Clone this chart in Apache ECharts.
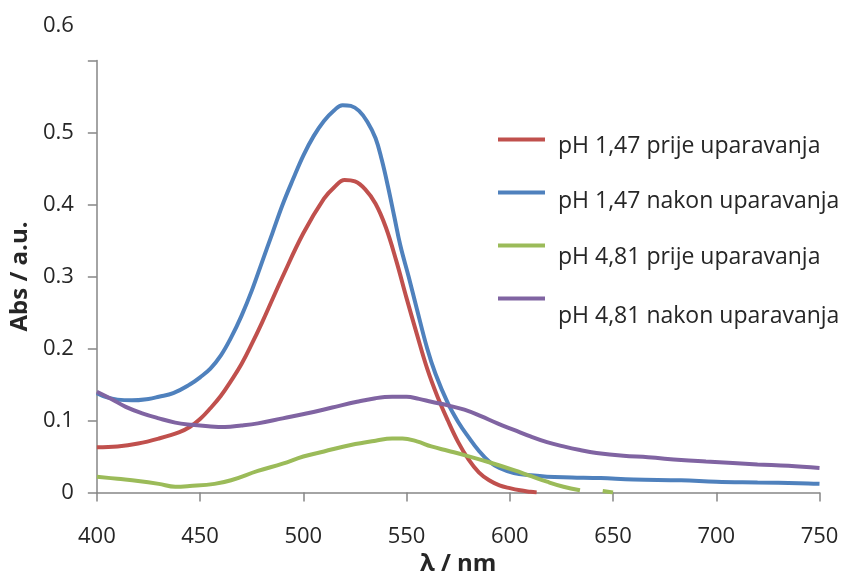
<!DOCTYPE html>
<html>
<head>
<meta charset="utf-8">
<script src="https://cdn.jsdelivr.net/npm/echarts@6/dist/echarts.min.js"></script>
<style>
  html, body { margin: 0; padding: 0; background: #fff; }
  #chart { width: 857px; height: 585px; }
</style>
</head>
<body>
<div id="chart"></div>
<script>
// pH 1,47 prije uparavanja
var redWl = [400, 410, 420, 430, 440, 445, 450, 455, 460, 465, 470, 475, 480, 485, 490, 500, 510, 515, 520, 525, 530, 535, 540, 545, 550, 555, 560, 565, 570, 575, 580, 585, 590, 595, 600, 605, 610, 613];
var redAbs = [0.063, 0.064, 0.068, 0.075, 0.084, 0.091, 0.102, 0.117, 0.134, 0.155, 0.178, 0.206, 0.236, 0.268, 0.30, 0.36, 0.408, 0.424, 0.434, 0.432, 0.421, 0.401, 0.368, 0.322, 0.27, 0.22, 0.172, 0.133, 0.10, 0.07, 0.046, 0.028, 0.017, 0.01, 0.006, 0.003, 0.001, 0.0];

// pH 1,47 nakon uparavanja
var blueWl = [400, 405, 410, 417, 425, 430, 437, 445, 450, 455, 460, 465, 470, 475, 480, 485, 490, 495, 500, 505, 510, 515, 519, 523, 527, 531, 535, 538, 541, 544, 547, 551, 555, 560, 564, 570, 575, 580, 585, 590, 595, 602, 610, 618, 630, 644, 660, 683, 700, 720, 740, 750];
var blueAbs = [0.138, 0.132, 0.129, 0.128, 0.13, 0.133, 0.138, 0.15, 0.16, 0.172, 0.19, 0.215, 0.245, 0.28, 0.32, 0.36, 0.40, 0.435, 0.468, 0.495, 0.516, 0.531, 0.538, 0.537, 0.53, 0.515, 0.492, 0.462, 0.425, 0.384, 0.343, 0.30, 0.255, 0.2, 0.165, 0.124, 0.098, 0.077, 0.058, 0.043, 0.034, 0.027, 0.024, 0.022, 0.021, 0.02, 0.018, 0.017, 0.015, 0.014, 0.013, 0.012];

// pH 4,81 prije uparavanja (gap near 640)
var greenWl = [400, 410, 420, 430, 438, 445, 457, 465, 478, 490, 500, 510, 523, 535, 543, 548, 555, 562, 570, 578, 590, 602, 610, 618, 626, 634, 640, 645, 650];
var greenAbs = [0.022, 0.019, 0.016, 0.012, 0.008, 0.009, 0.012, 0.017, 0.03, 0.04, 0.05, 0.057, 0.066, 0.072, 0.075, 0.075, 0.071, 0.064, 0.058, 0.052, 0.042, 0.031, 0.023, 0.015, 0.008, 0.003, null, 0.002, 0.0];

// pH 4,81 nakon uparavanja
var purpleWl = [400, 407, 414, 422, 430, 438, 446, 454, 462, 470, 478, 490, 502, 514, 526, 535, 543, 550, 556, 562, 570, 578, 586, 594, 602, 610, 618, 626, 634, 642, 655, 667, 683, 695, 708, 720, 735, 750];
var purpleAbs = [0.14, 0.13, 0.119, 0.11, 0.103, 0.097, 0.094, 0.092, 0.091, 0.093, 0.096, 0.103, 0.11, 0.118, 0.126, 0.131, 0.133, 0.133, 0.13, 0.126, 0.121, 0.115, 0.106, 0.096, 0.087, 0.078, 0.07, 0.064, 0.059, 0.055, 0.051, 0.049, 0.045, 0.043, 0.041, 0.039, 0.037, 0.034];

var seriesNames = ['pH 1,47 prije uparavanja', 'pH 1,47 nakon uparavanja', 'pH 4,81 prije uparavanja', 'pH 4,81 nakon uparavanja'];
var colors = ['#C0504D', '#4F81BD', '#9BBB59', '#8064A2'];

function pairs(wl, abs) {
    var out = [];
    for (var i = 0; i < wl.length; i++) {
        out.push([wl[i], abs[i]]);
    }
    return out;
}

var allData = [pairs(redWl, redAbs), pairs(blueWl, blueAbs), pairs(greenWl, greenAbs), pairs(purpleWl, purpleAbs)];

var chart = echarts.init(document.getElementById('chart'));

var font = 'Open Sans';
var textColor = '#262626';
var axisColor = '#868686';

// legend: one per item, the text sits a bit lower than the line (like the original)
var legendTops = [121, 172, 222, 269];
var legendPad = [14, 18, 24, 36];
var legends = [];
var series = [];
for (var i = 0; i < seriesNames.length; i++) {
    legends.push({
        data: [seriesNames[i]],
        left: 498,
        top: legendTops[i],
        padding: 0,
        orient: 'vertical',
        icon: 'rect',
        itemWidth: 47,
        itemHeight: 4,
        selectedMode: false,
        formatter: '{t|{name}}',
        textStyle: {
            fontFamily: font,
            fontSize: 23,
            color: textColor,
            rich: {
                t: {
                    fontFamily: font,
                    fontSize: 23,
                    lineHeight: 24,
                    color: textColor,
                    padding: [legendPad[i], 0, 0, 8]
                }
            }
        }
    });
    series.push({
        name: seriesNames[i],
        type: 'line',
        data: allData[i],
        showSymbol: false,
        smooth: 0.4,
        connectNulls: false,
        lineStyle: { width: 4, color: colors[i] },
        itemStyle: { color: colors[i] },
        emphasis: { disabled: true }
    });
}

var option = {
    backgroundColor: '#fff',
    animation: false,
    color: colors,
    grid: { left: 94.5, right: 37.5, top: 60.5, bottom: 92.5, containLabel: false },
    legend: legends,
    xAxis: {
        type: 'value',
        min: 400,
        max: 750,
        interval: 50,
        name: 'λ / nm',
        nameLocation: 'middle',
        nameGap: 49,
        nameTextStyle: { fontFamily: font, fontSize: 24, fontWeight: 'bold', color: textColor },
        axisLine: { show: true, onZero: false, lineStyle: { color: axisColor, width: 1.5 } },
        axisTick: { show: true, inside: false, length: 9, lineStyle: { color: axisColor, width: 1.5 } },
        axisLabel: { margin: 33, fontFamily: font, fontSize: 22, color: textColor },
        splitLine: { show: false }
    },
    yAxis: {
        type: 'value',
        min: 0,
        max: 0.6,
        interval: 0.1,
        name: 'Abs / a.u.',
        nameLocation: 'middle',
        nameGap: 52,
        nameTextStyle: { fontFamily: font, fontSize: 24, fontWeight: 'bold', color: textColor },
        axisLine: { show: true, lineStyle: { color: axisColor, width: 1.5 } },
        axisTick: { show: true, inside: false, length: 9, lineStyle: { color: axisColor, width: 1.5 } },
        axisLabel: {
            margin: 23,
            fontFamily: font,
            fontSize: 22,
            color: textColor,
            formatter: function (v) {
                var s = String(Math.round(v * 10) / 10);
                // top label is drawn well above its tick in the original
                if (Math.abs(v - 0.6) < 1e-6) return '{top|' + s + '}';
                return s;
            },
            rich: {
                top: { fontFamily: font, fontSize: 22, color: textColor, padding: [0, 0, 70, 0] }
            }
        },
        splitLine: { show: false }
    },
    series: series
};

chart.setOption(option);
</script>
</body>
</html>
